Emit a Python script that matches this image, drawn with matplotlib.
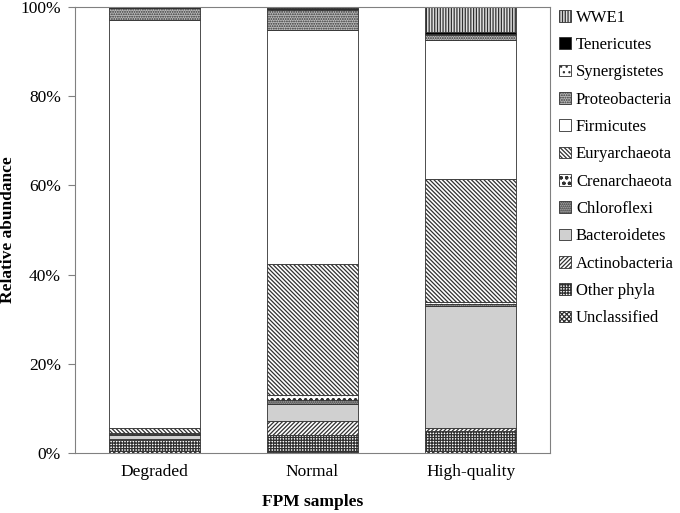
import matplotlib.pyplot as plt
import numpy as np

plt.rcParams['font.family'] = 'Liberation Serif'
plt.rcParams['hatch.linewidth'] = 0.9

# Data setup
samples = ['Degraded', 'Normal', 'High-quality']
phyla = ['Unclassified', 'Other phyla', 'Actinobacteria', 'Bacteroidetes',
         'Chloroflexi', 'Crenarchaeota', 'Euryarchaeota', 'Firmicutes',
         'Proteobacteria', 'Synergistetes', 'Tenericutes', 'WWE1']

# relative abundance (%) per phylum for Degraded, Normal, High-quality
unclassified = [0.4, 0.3, 0.4]
other_phyla = [2.4, 3.7, 4.6]
actinobacteria = [0.3, 3.2, 0.5]
bacteroidetes = [0.9, 3.7, 27.5]
chloroflexi = [0.3, 1.0, 0.5]
crenarchaeota = [0.2, 1.1, 0.4]
euryarchaeota = [1.0, 29.4, 27.5]
firmicutes = [91.6, 52.4, 31.2]
proteobacteria = [2.6, 4.5, 1.1]
synergistetes = [0.1, 0.2, 0.3]
tenericutes = [0.1, 0.3, 0.5]
wwe1 = [0.1, 0.2, 5.5]

values = [unclassified, other_phyla, actinobacteria, bacteroidetes, chloroflexi,
          crenarchaeota, euryarchaeota, firmicutes, proteobacteria,
          synergistetes, tenericutes, wwe1]

# (facecolor, hatch) for each phylum
styles = [
    ('white', 'xxxxxxx'),
    ('white', '++++++'),
    ('white', '////////'),
    ('#d0d0d0', None),
    ('#a8a8a8', '........'),
    ('white', 'ooo'),
    ('white', '\\\\\\\\\\\\\\\\'),
    ('white', None),
    ('#bdbdbd', '.......'),
    ('white', '...'),
    ('black', None),
    ('#e0e0e0', '||||||'),
]

x = np.arange(len(samples))
bar_width = 0.575

fig = plt.figure(figsize=(6.8, 5.13), dpi=100)
ax = fig.add_axes([0.1103, 0.117, 0.6985, 0.8694])

bottom = np.zeros(len(samples))
handles = []
for name, vals, (fc, hatch) in zip(phyla, values, styles):
    bars = ax.bar(x, vals, bar_width, bottom=bottom, color=fc, hatch=hatch,
                  edgecolor='#303030', linewidth=0.6, label=name)
    handles.append(bars)
    bottom += np.array(vals)

ax.set_xlim(-0.5, 2.5)
ax.set_ylim(0, 100)
ax.set_yticks(np.arange(0, 101, 20))
ax.set_yticklabels(['%d%%' % v for v in range(0, 101, 20)], fontsize=12.5)
ax.set_xticks(x)
ax.set_xticklabels(samples, fontsize=12.5)
ax.tick_params(axis='x', length=0, pad=8)
ax.tick_params(axis='y', direction='out', length=5, color='#808080', pad=5)
for sp in ax.spines.values():
    sp.set_color('#808080')
    sp.set_linewidth(0.8)

ax.set_ylabel('Relative abundance', fontsize=12.5, fontweight='bold', labelpad=3)
ax.set_xlabel('FPM samples', fontsize=12.5, fontweight='bold', labelpad=10)

ax.legend(handles[::-1], phyla[::-1], loc='upper left', bbox_to_anchor=(0.995, 1.02),
          frameon=False, fontsize=12, handlelength=0.7, handleheight=0.7,
          handletextpad=0.3, labelspacing=0.68, borderaxespad=0.3)

fig.savefig('out.png', dpi=100)
